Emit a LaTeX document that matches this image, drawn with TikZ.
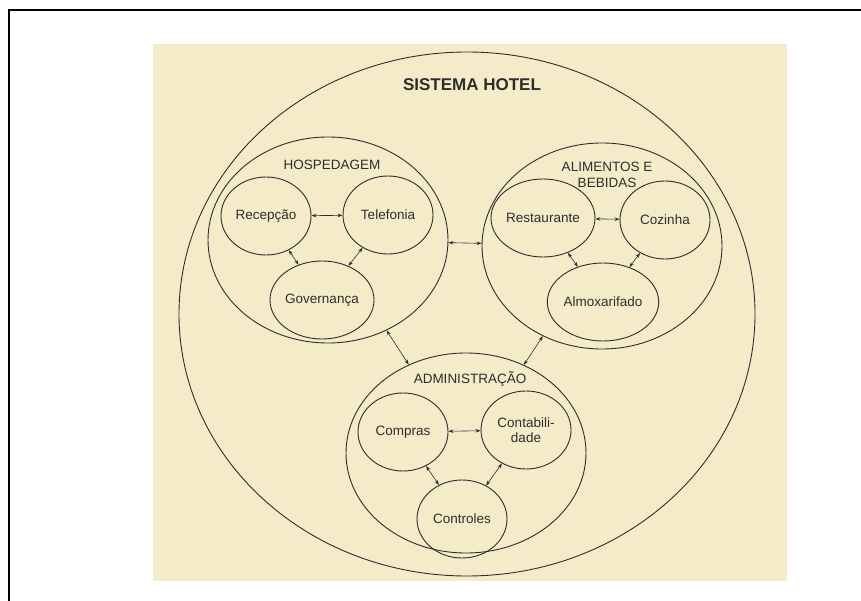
\documentclass[tikz,border=0pt]{standalone}
\usepackage{fontspec}
\setmainfont{Liberation Sans}
\usepackage{tikz}
\usetikzlibrary{arrows.meta}
\usetikzlibrary{positioning}
\usetikzlibrary{shapes.geometric}
\definecolor{papel}{RGB}{244,236,200}
\definecolor{tinta}{RGB}{45,45,45}

\begin{document}
\begin{tikzpicture}[x=1pt,y=-1pt,
    area/.style={ellipse, draw=tinta, line width=0.9pt, minimum width=240pt, minimum height=206pt, inner sep=0pt},
    sub/.style={ellipse, draw=tinta, line width=0.9pt, minimum width=90pt, minimum height=78pt, inner sep=0pt,
        font=\fontsize{13.5}{15}\selectfont, text=tinta, align=center},
    rotulo/.style={font=\fontsize{13.5}{16}\selectfont, text=tinta, align=center, inner sep=0pt},
    liga/.style={>={Stealth[length=5pt,width=3.5pt]}, <->, draw=tinta, line width=0.6pt}]
            \useasboundingbox (0,0) rectangle (861,601);
            % moldura e papel
            \draw[line width=2pt] (9,601) -- (9,10) -- (861,10);
            \fill[papel] (153,44) rectangle (787,581);

            % sistema
            \node[area, minimum width=576pt, minimum height=524pt] (hotel) at (467,314) {};
            \node[text=tinta, font=\bfseries\fontsize{17}{20}\selectfont] (titulo) at (472,85) {SISTEMA HOTEL};

            % subsistemas
            \node[area] (hosp) at (328,240) {};
            \node[area] (alim) at (602,246) {};
            \node[area, minimum height=200pt] (adm) at (466,453) {};
            \node[rotulo] (thosp) at (332,165) {HOSPEDAGEM};
            \node[rotulo] (talim) at (607,175) {ALIMENTOS E\\BEBIDAS};
            \node[rotulo] (tadm) at (470,379) {ADMINISTRAÇÃO};

            % setores
            \node[sub] (recepcao) at (266,216) {Recepção};
            \node[sub] (telefonia) at (388,215) {Telefonia};
            \node[sub] (governanca) at (322,300) {Governança};
            \node[sub] (restaurante) at (543,218) {Restaurante};
            \node[sub] (cozinha) at (665,220) {Cozinha};
            \node[sub] (almox) at (603,302) {Almoxarifado};
            \node[sub] (compras) at (403,432) {Compras};
            \node[sub] (contab) at (526,430) {Contabili-\\dade};
            \node[sub] (controles) at (462,519) {Controles};

            % ligacoes
            \draw[liga] (recepcao) -- (telefonia);
            \draw[liga] (recepcao) -- (governanca);
            \draw[liga] (telefonia) -- (governanca);
            \draw[liga] (restaurante) -- (cozinha);
            \draw[liga] (restaurante) -- (almox);
            \draw[liga] (cozinha) -- (almox);
            \draw[liga] (compras) -- (contab);
            \draw[liga] (compras) -- (controles);
            \draw[liga] (contab) -- (controles);
            \draw[liga] (hosp) -- (alim);
            \draw[liga] (hosp) -- (adm);
            \draw[liga] (alim) -- (adm);
        \end{tikzpicture}
\end{document}
